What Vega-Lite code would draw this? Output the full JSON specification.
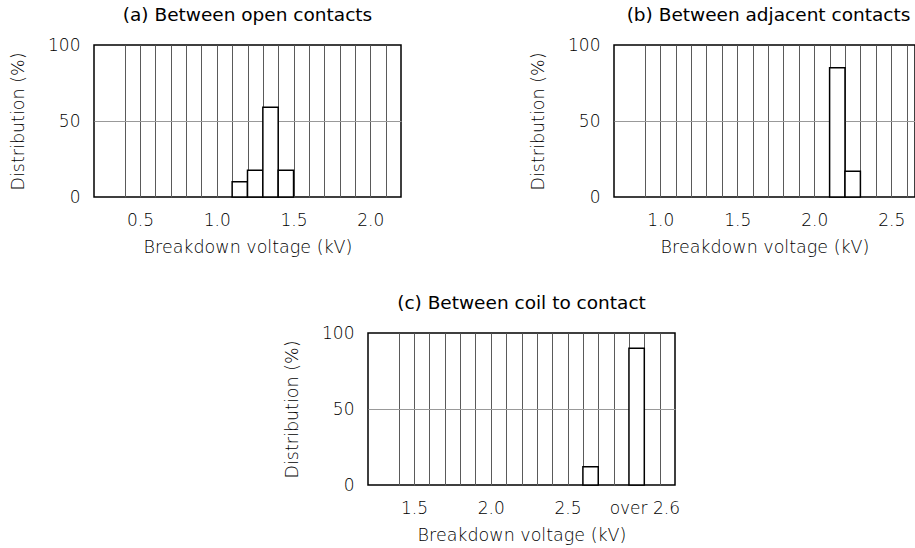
{
  "$schema": "https://vega.github.io/schema/vega-lite/v6.json",
  "padding": {"left": 8, "top": 4, "right": 0, "bottom": 0},
  "background": "white",
  "datasets": {
    "open": [
      {"lo": 1.1, "hi": 1.2, "pct": 10},
      {"lo": 1.2, "hi": 1.3, "pct": 17.6},
      {"lo": 1.3, "hi": 1.4, "pct": 59},
      {"lo": 1.4, "hi": 1.5, "pct": 17.6}
    ],
    "adjacent": [
      {"lo": 2.1, "hi": 2.2, "pct": 85},
      {"lo": 2.2, "hi": 2.3, "pct": 17}
    ],
    "coil": [
      {"lo": 2.6, "hi": 2.7, "pct": 12},
      {"lo": 2.9, "hi": 3.0, "pct": 90}
    ]
  },
  "config": {
    "font": "DejaVu Sans",
    "view": {"stroke": "#000", "strokeWidth": 1.5},
    "title": {"fontSize": 18.5, "fontWeight": "normal", "color": "#000", "baseline": "alphabetic", "offset": 12, "anchor": "middle"},
    "axis": {
      "labelFontSize": 17, "labelFontWeight": 300, "labelColor": "#000",
      "titleFontSize": 17.5, "titleFontWeight": 300, "titleColor": "#000",
      "ticks": false, "domain": false, "gridColor": "#5a5a5a", "gridWidth": 1,
      "labelOverlap": false, "labelFlush": false
    }
  },
  "bounds": "flush",
  "spacing": 288,
  "vconcat": [
    {
      "bounds": "flush",
      "spacing": 213,
      "hconcat": [
        {
          "title": "(a) Between open contacts",
          "width": 307, "height": 152,
          "data": {"name": "open"},
          "mark": {"type": "bar", "fill": "white", "stroke": "#000", "strokeWidth": 1.5},
          "encoding": {
            "x": {"field": "lo", "type": "quantitative",
              "scale": {"domain": [0.2, 2.2], "nice": false, "zero": false},
              "axis": {"title": "Breakdown voltage (kV)", "grid": true, "labelPadding": 15, "titlePadding": 10,
                "values": [0.4,0.5,0.6,0.7,0.8,0.9,1.0,1.1,1.2,1.3,1.4,1.5,1.6,1.7,1.8,1.9,2.0,2.1],
                "labelExpr": "abs(datum.value*2 - round(datum.value*2)) < 0.01 ? format(datum.value, '.1f') : ''"}},
            "x2": {"field": "hi"},
            "y": {"field": "pct", "type": "quantitative",
              "scale": {"domain": [0, 100], "nice": false},
              "axis": {"title": "Distribution (%)", "values": [0, 50, 100], "labelPadding": 14, "titlePadding": 20, "grid": true,
                "gridColor": "#999", "gridOpacity": {"condition": {"test": "datum.value === 50", "value": 1}, "value": 0}}},
            "y2": {"datum": 0}
          }
        },
        {
          "title": {"text": "(b) Between adjacent contacts", "dx": 4},
          "width": 301, "height": 152,
          "data": {"name": "adjacent"},
          "mark": {"type": "bar", "fill": "white", "stroke": "#000", "strokeWidth": 1.5},
          "encoding": {
            "x": {"field": "lo", "type": "quantitative",
              "scale": {"domain": [0.7, 2.6545], "nice": false, "zero": false},
              "axis": {"title": "Breakdown voltage (kV)", "grid": true, "labelPadding": 15, "titlePadding": 10,
                "values": [0.9,1.0,1.1,1.2,1.3,1.4,1.5,1.6,1.7,1.8,1.9,2.0,2.1,2.2,2.3,2.4,2.5,2.6],
                "labelExpr": "abs(datum.value*2 - round(datum.value*2)) < 0.01 ? format(datum.value, '.1f') : ''"}},
            "x2": {"field": "hi"},
            "y": {"field": "pct", "type": "quantitative",
              "scale": {"domain": [0, 100], "nice": false},
              "axis": {"title": "Distribution (%)", "values": [0, 50, 100], "labelPadding": 14, "titlePadding": 20, "grid": true,
                "gridColor": "#999", "gridOpacity": {"condition": {"test": "datum.value === 50", "value": 1}, "value": 0}}},
            "y2": {"datum": 0}
          }
        }
      ]
    },
    {
      "bounds": "flush",
      "spacing": 0,
      "hconcat": [
        {
          "width": 274, "height": 152,
          "data": {"values": []},
          "mark": "point",
          "view": {"stroke": null}
        },
        {
          "title": "(c) Between coil to contact",
          "width": 307, "height": 152,
          "data": {"name": "coil"},
          "mark": {"type": "bar", "fill": "white", "stroke": "#000", "strokeWidth": 1.5},
          "encoding": {
            "x": {"field": "lo", "type": "quantitative",
              "scale": {"domain": [1.2, 3.2], "nice": false, "zero": false},
              "axis": {"title": "Breakdown voltage (kV)", "grid": true, "labelPadding": 15, "titlePadding": 10,
                "values": [1.4,1.5,1.6,1.7,1.8,1.9,2.0,2.1,2.2,2.3,2.4,2.5,2.6,2.7,2.8,2.9,3.0,3.1],
                "labelExpr": "abs(datum.value - 3) < 0.01 ? 'over 2.6' : (abs(datum.value*2 - round(datum.value*2)) < 0.01 ? format(datum.value, '.1f') : '')"}},
            "x2": {"field": "hi"},
            "y": {"field": "pct", "type": "quantitative",
              "scale": {"domain": [0, 100], "nice": false},
              "axis": {"title": "Distribution (%)", "values": [0, 50, 100], "labelPadding": 14, "titlePadding": 20, "grid": true,
                "gridColor": "#999", "gridOpacity": {"condition": {"test": "datum.value === 50", "value": 1}, "value": 0}}},
            "y2": {"datum": 0}
          }
        }
      ]
    }
  ]
}
